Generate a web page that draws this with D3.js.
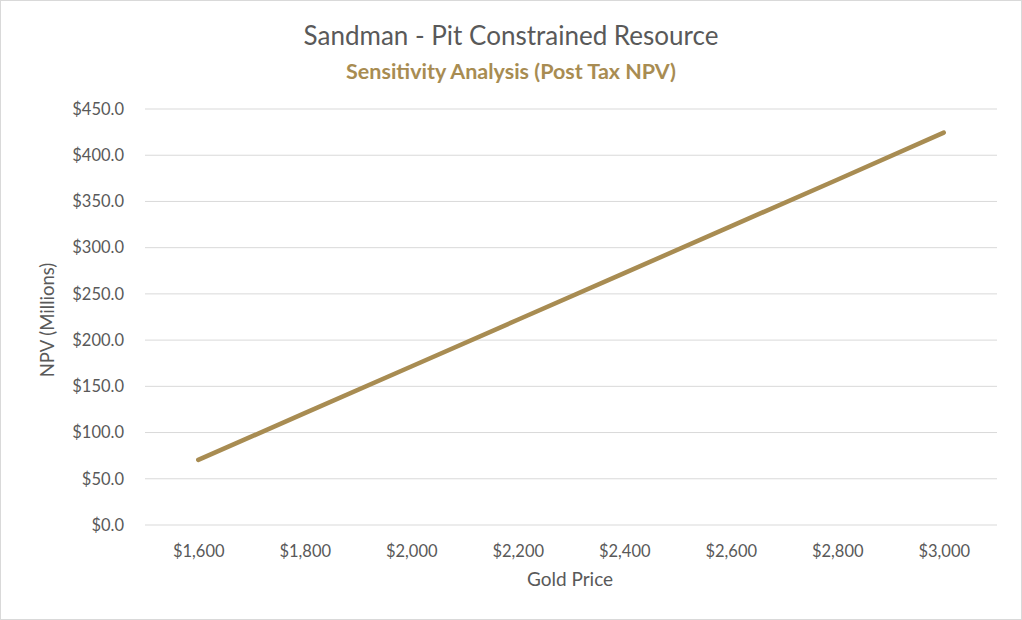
<!DOCTYPE html>
<html><head><meta charset="utf-8">
<script src="https://cdn.jsdelivr.net/npm/d3@7"></script>
<style>
html,body{margin:0;padding:0;background:#fff;}
svg{display:block;font-family:Lato,"Open Sans",sans-serif;}
</style></head>
<body>
<svg id="chart" width="1022" height="620"></svg>
<script>
const goldPrices = [1600, 1800, 2000, 2200, 2400, 2600, 2800, 3000];
const npvValues = [70.4, 121.0, 171.5, 222.0, 272.5, 323.0, 373.5, 424.5];
const yTicks = [0, 50, 100, 150, 200, 250, 300, 350, 400, 450];
const titleText = "Sandman - Pit Constrained Resource";
const subtitleText = "Sensitivity Analysis (Post Tax NPV)";
const xTitle = "Gold Price";
const yTitle = "NPV (Millions)";

const svg = d3.select("#chart");
const W = 1022, H = 620;
const m = {left:145, right:25, top:109, bottom:95};
const gold = "#A88C52";
const textCol = "#595959";

svg.append("rect").attr("x",0.5).attr("y",0.5).attr("width",W-1).attr("height",H-1)
  .attr("fill","#fff").attr("stroke","#d9d9d9");

const x = d3.scalePoint().domain(goldPrices).range([m.left, W-m.right]).padding(0.5);
const y = d3.scaleLinear().domain([0,450]).range([H-m.bottom, m.top]);

// gridlines
svg.append("g").selectAll("line").data(yTicks).join("line")
  .attr("x1",m.left).attr("x2",W-m.right)
  .attr("y1",d=>y(d)).attr("y2",d=>y(d))
  .attr("stroke","#d9d9d9").attr("stroke-width",1);

// y axis
const yAxis = svg.append("g").attr("transform",`translate(${m.left},0)`)
  .call(d3.axisLeft(y).tickValues(yTicks).tickFormat(d=>"$"+d3.format(".1f")(d)).tickSize(0).tickPadding(21));
yAxis.select(".domain").remove();
yAxis.selectAll("text").attr("fill",textCol).style("font-size","16.5px").style("font-family","Lato,'Open Sans',sans-serif");

// x axis
const xAxis = svg.append("g").attr("transform",`translate(0,${H-m.bottom})`)
  .call(d3.axisBottom(x).tickFormat(d=>"$"+d3.format(",")(d)).tickSize(0).tickPadding(20));
xAxis.select(".domain").remove();
xAxis.selectAll("text").attr("fill",textCol).style("font-size","16.5px").style("font-family","Lato,'Open Sans',sans-serif");

// line
const line = d3.line().x((d,i)=>x(goldPrices[i])).y(d=>y(d));
svg.append("path").datum(npvValues).attr("d",line)
  .attr("fill","none").attr("stroke",gold).attr("stroke-width",4.5).attr("stroke-linecap","round");

// titles
svg.append("text").attr("x",511).attr("y",45).attr("text-anchor","middle")
  .attr("fill",textCol).style("font-size","26px").text(titleText);
svg.append("text").attr("x",511).attr("y",79).attr("text-anchor","middle")
  .attr("fill",gold).style("font-size","21.5px").style("font-weight","bold").text(subtitleText);
svg.append("text").attr("x",570).attr("y",586).attr("text-anchor","middle")
  .attr("fill",textCol).style("font-size","19px").text(xTitle);
svg.append("text").attr("transform",`translate(54,${(m.top+H-m.bottom)/2+3}) rotate(-90)`)
  .attr("text-anchor","middle").attr("fill",textCol).style("font-size","18.5px").text(yTitle);
</script>
</body></html>
